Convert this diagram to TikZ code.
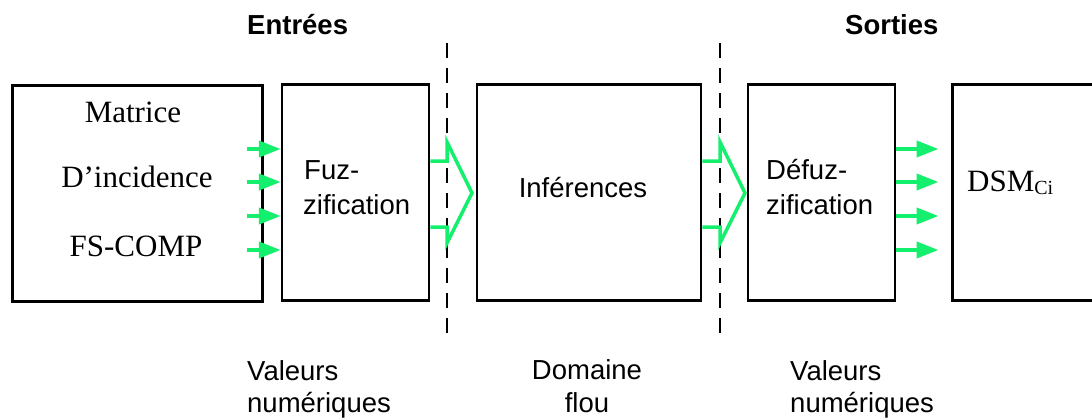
\documentclass[tikz,border=0pt]{standalone}
\usepackage{fontspec}
\setmainfont{Liberation Serif}
\setsansfont{Liberation Sans}
\usetikzlibrary{arrows.meta}
\definecolor{fgreen}{RGB}{20,240,110}
\begin{document}
\begin{tikzpicture}[x=1pt,y=-1pt,
  box/.style={draw=black,line width=2.5pt,minimum width=#1,minimum height=216pt,inner sep=0pt},
  thickbox/.style={box=#1,line width=3pt},
  garrow/.style={draw=fgreen,line width=4pt,-{Triangle[length=22pt,width=16pt]}},
  chev/.style={draw=fgreen,line width=3.5pt,line join=miter},
  sep/.style={draw=black,line width=1.3pt,dash pattern=on 15pt off 10pt},
  sf/.style={font=\sffamily\fontsize{27.5}{33}\selectfont,inner sep=0pt},
  sfb/.style={font=\sffamily\bfseries\fontsize{27.5}{33}\selectfont,inner sep=0pt},
  rm/.style={font=\rmfamily\fontsize{31}{36}\selectfont,inner sep=0pt}]
\clip (0,0) rectangle (1092,418);
\fill[white] (0,0) rectangle (1092,418);

% boxes
\node[thickbox=250pt] (mat) at (137,193) {};
\node[box=147pt] (fz) at (355.5,192.5) {};
\node[box=224pt] (inf) at (589,192.5) {};
\node[box=147pt] (df) at (821.5,192.5) {};
\node[thickbox=148pt] (dsm) at (1026,192.5) {};

% separators
\coordinate (s1t) at (447,43);
\coordinate (s1b) at (447,333);
\coordinate (s2t) at (720,43);
\coordinate (s2b) at (720,333);
\draw[sep] (s1t) -- (s1b);
\draw[sep] (s2t) -- (s2b);

% headings
\node[sfb,anchor=base west] (ent) at (247,34) {Entrées};
\node[sfb,anchor=base west] (sor) at (845,34) {Sorties};

% box texts
\node[rm,anchor=base] (t1) at (133,122) {Matrice};
\node[rm,anchor=base] (t2) at (137,187) {D’incidence};
\node[rm,anchor=base] (t3) at (136,256) {FS-COMP};
\node[sf,anchor=base west] (f1) at (304,179) {Fuz-};
\node[sf,anchor=base west] (f2) at (303,214) {zification};
\node[sf,anchor=base] (i1) at (583,197) {Inférences};
\node[sf,anchor=base west] (d1) at (766,179) {Défuz-};
\node[sf,anchor=base west] (d2) at (766,214) {zification};
\node[rm,anchor=base west] (dsmt) at (967,191) {DSM\raisebox{-3pt}{\fontsize{20}{24}\selectfont Ci}};

% bottom texts
\node[sf,anchor=base west] (b1) at (247,380) {Valeurs};
\node[sf,anchor=base west] (b2) at (247,412) {numériques};
\node[sf,anchor=base] (b3) at (587,379) {Domaine};
\node[sf,anchor=base] (b4) at (587,412) {flou};
\node[sf,anchor=base west] (b5) at (790,380) {Valeurs};
\node[sf,anchor=base west] (b6) at (790,412) {numériques};

% input arrows
\foreach \yy in {149,182,216,250}{
  \draw[garrow] ([xshift=-17pt]mat.east |- 0,\yy) -- (fz.west |- 0,\yy);
}
% output arrows
\foreach \yy in {149,182,216,250}{
  \draw[garrow] (df.east |- 0,\yy) -- ([xshift=-12pt]dsm.west |- 0,\yy);
}
% chevrons
\draw[chev] (fz.east |- 0,161) -- (447,161) -- (447,142) -- (472,193) -- (447,243) -- (447,227) -- (fz.east |- 0,227);
\draw[chev] (inf.east |- 0,161) -- (720,161) -- (720,142) -- (745,193) -- (720,243) -- (720,227) -- (inf.east |- 0,227);
\end{tikzpicture}
\end{document}
